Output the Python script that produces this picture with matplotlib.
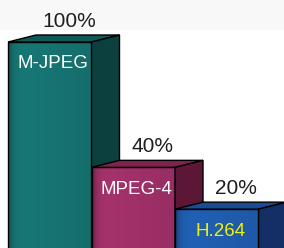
import numpy as np
import matplotlib
matplotlib.use("Agg")
import matplotlib.pyplot as plt
from matplotlib.patches import Polygon

plt.rcParams["font.family"] = ["Liberation Sans", "DejaVu Sans"]

# 数据
codecs = ["M-JPEG", "MPEG-4", "H.264"]
values = [100, 40, 20]
pct_labels = ["100%", "40%", "20%"]

# 配色：正面 / 顶面 / 侧面 / 标签字色
front_cols = ["#177a78", "#a8336e", "#2262b8"]
top_cols = ["#0f5a58", "#80224f", "#1a4c94"]
side_cols = ["#0b403f", "#5c1636", "#132f66"]
name_cols = ["white", "white", "#f2f200"]

W = 1.0               # 正面宽度
DX, DY = 0.335, 3.35  # 立体深度偏移
BASE = -20            # 底边（在图外）

fig = plt.figure(figsize=(2.84, 2.48), dpi=100)
ax = fig.add_axes([0, 0, 1, 1])
ax.set_xlim(-0.596, 2.805)
ax.set_ylim(1.4, 120.1)
ax.axis("off")

# 顶部浅灰带
ax.axhspan(106.2, 130, color="#f8f8f8", zorder=0)

for i, (name, v) in enumerate(zip(codecs, values)):
    x0, x1 = i - W / 2, i + W / 2
    z = 2 + i * 3
    # 正面（带轻微横向渐变）
    front = Polygon([(x0, BASE), (x1, BASE), (x1, v), (x0, v)], closed=True,
                    fc=front_cols[i], ec="none", zorder=z)
    ax.add_patch(front)
    grad = np.linspace(0, 1, 64)
    shade = 1 - 0.35 * np.exp(-grad * 20) - 0.1 * grad
    rgb = np.array(matplotlib.colors.to_rgb(front_cols[i]))
    img = np.clip(shade[None, :, None] * rgb[None, None, :] * np.ones((2, 1, 1)), 0, 1)
    im = ax.imshow(img, extent=(x0, x1, BASE, v), aspect="auto", zorder=z,
                   interpolation="bilinear")
    im.set_clip_path(front)
    ax.add_patch(Polygon([(x0, BASE), (x1, BASE), (x1, v), (x0, v)], closed=True,
                         fill=False, ec="black", lw=1.0, zorder=z + 0.5))
    # 顶面
    ax.add_patch(Polygon([(x0, v), (x1, v), (x1 + DX, v + DY), (x0 + DX, v + DY)],
                         closed=True, fc=top_cols[i], ec="black", lw=1.0, zorder=z + 1))
    # 侧面
    ax.add_patch(Polygon([(x1, BASE), (x1 + DX, BASE + DY), (x1 + DX, v + DY), (x1, v)],
                         closed=True, fc=side_cols[i], ec="black", lw=1.0, zorder=z + 1))
    # 百分比
    ax.text(i + 0.23, v + 10, pct_labels[i], ha="center", va="center",
            fontsize=15, color="#1e1e1e", zorder=20)
    # 名称
    ax.text(i + 0.04, v - 10.5, name, ha="center", va="center",
            fontsize=13.5, color=name_cols[i], zorder=20)

fig.savefig("out.png", dpi=100)
